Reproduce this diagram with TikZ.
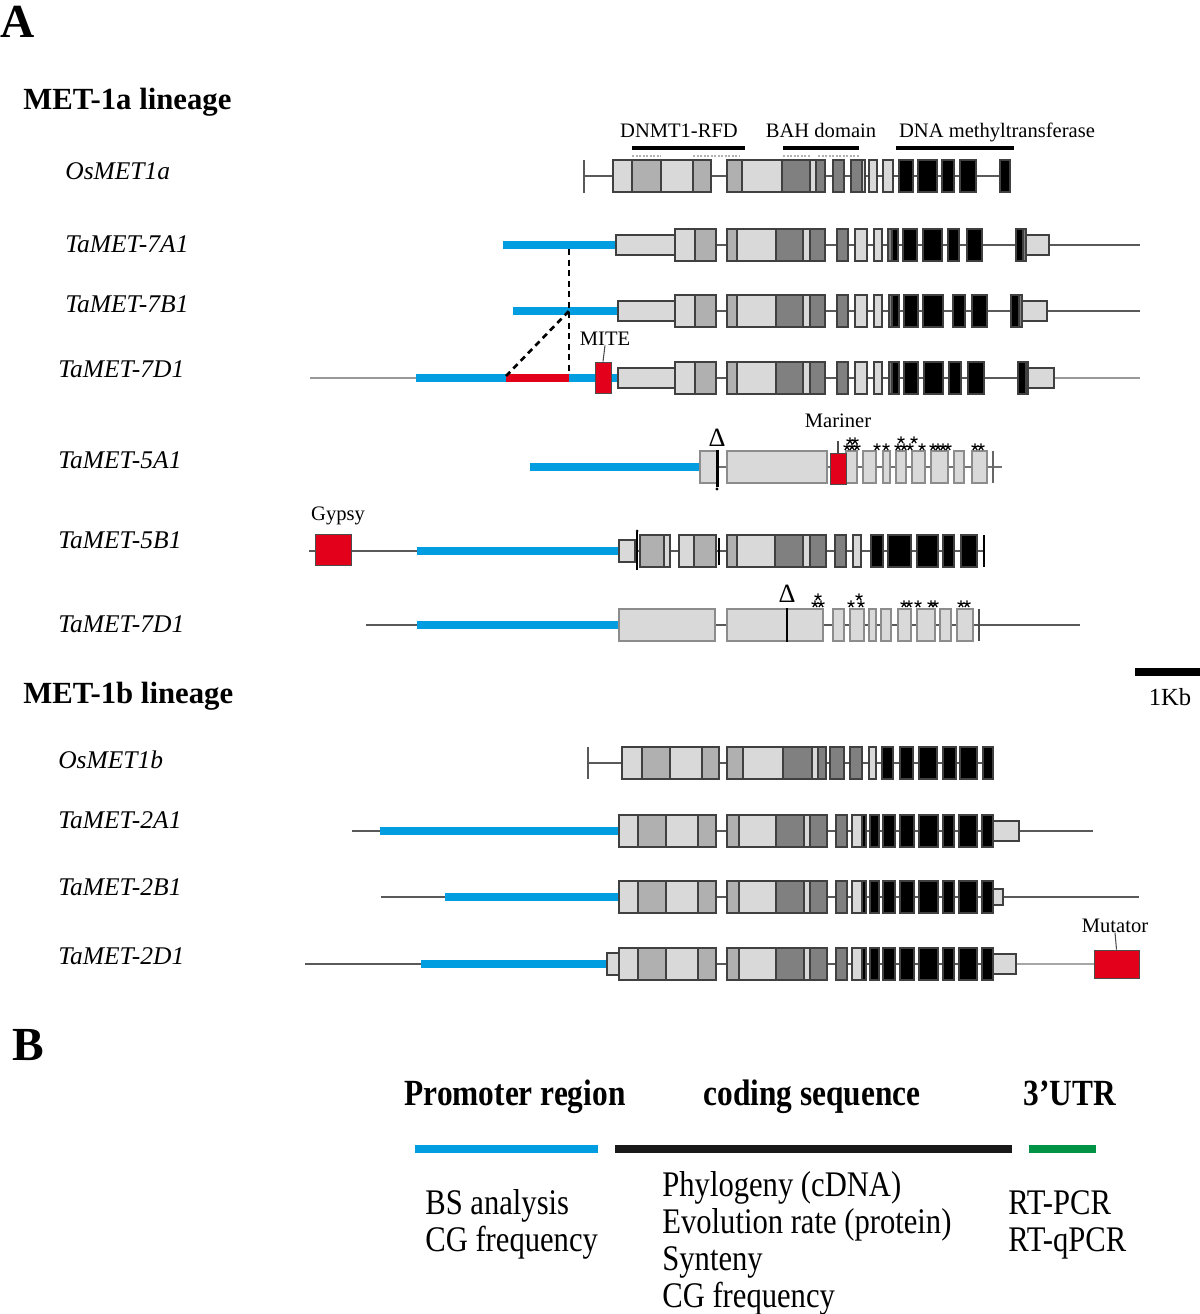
\documentclass[tikz,border=0pt]{standalone}
\usepackage{fontspec}
\setmainfont{Liberation Serif}
\newfontfamily\condserif[FakeStretch=0.85]{Liberation Serif}
\usetikzlibrary{plotmarks}
\definecolor{promBlue}{RGB}{0,158,224}
\definecolor{teRed}{RGB}{226,0,26}
\definecolor{utrGreen}{RGB}{0,146,69}
\definecolor{exL}{RGB}{217,217,217}
\definecolor{exM}{RGB}{176,176,176}
\definecolor{exD}{RGB}{128,128,128}
\newcommand{\exbox}[3]{\draw[exon,fill=#3] (#1,-16) rectangle (#2,16);}
\newcommand{\utrbox}[3]{\draw[exon,fill=exL] (#1,-#3) rectangle (#2,#3);}
\newcommand{\sevencore}{%
  \exbox{675}{695}{exL}\exbox{695}{716}{exM}\exbox{727}{737}{exM}\exbox{737}{776}{exL}%
  \exbox{776}{803}{exD}\exbox{803}{810}{exL}\exbox{810}{825}{exD}\exbox{837}{848}{exD}%
  \exbox{855}{867}{exL}\exbox{874}{882}{exL}}
\newcommand{\twocore}{%
  \exbox{619}{638}{exL}\exbox{638}{666}{exM}\exbox{666}{698}{exL}\exbox{698}{716}{exM}%
  \exbox{727}{739}{exM}\exbox{739}{776}{exL}\exbox{776}{804}{exD}\exbox{804}{810}{exL}%
  \exbox{810}{827}{exD}\exbox{836}{847}{exD}\exbox{852}{862}{exL}\exbox{862}{866}{black}%
  \exbox{870}{879}{black}\exbox{883}{895}{black}\exbox{900}{914}{black}\exbox{919}{938}{black}%
  \exbox{943}{954}{black}\exbox{959}{977}{black}\exbox{982}{993}{black}}

\begin{document}
\begin{tikzpicture}[x=0.2mm,y=-0.2mm,
  panel/.style={font=\fontsize{27}{30}\selectfont\bfseries,anchor=base west,inner sep=0pt},
  lineage/.style={font=\fontsize{17.5}{20}\selectfont\bfseries,anchor=base west,inner sep=0pt},
  gene/.style={font=\fontsize{14.5}{17}\selectfont\itshape,anchor=base west,inner sep=0pt},
  tag/.style={font=\fontsize{11.7}{14}\selectfont,anchor=base,inner sep=0pt},
  delta/.style={font=\fontsize{15}{18}\selectfont,anchor=base,inner sep=0pt},
  head/.style={font=\condserif\fontsize{21}{24}\selectfont\bfseries,anchor=base,inner sep=0pt},
  use/.style={font=\condserif\fontsize{20.5}{24}\selectfont,anchor=base west,inner sep=0pt},
  intron/.style={draw=black!65,line width=1.1pt},
  prom/.style={draw=promBlue,line width=4.5pt},
  exon/.style={draw=black!75,line width=0.6pt},
  dom/.style={draw=black,line width=2.8pt},
  domdash/.style={draw=black!30,line width=1.2pt,dash pattern=on 1.2pt off 0.8pt},
  tebox/.style={draw=black!70,line width=0.5pt,fill=teRed,inner sep=0pt},
  stars/.style={black,line width=0.7pt,mark size=0.75mm}]
  \useasboundingbox (0,0) rectangle (1200,1314);

  % ---------------- panel A ----------------
  \node[panel] (pa) at (0,38) {A};
  \node[lineage] (lin1a) at (23,110) {MET-1a lineage};
  \node[gene] (osa) at (65,180) {OsMET1a};
  \node[gene] (ta7a) at (65,253) {TaMET-7A1};
  \node[gene] (ta7b) at (65,313) {TaMET-7B1};
  \node[gene] (ta7d) at (58,377) {TaMET-7D1};
  \node[gene] (ta5a) at (58,468) {TaMET-5A1};
  \node[gene] (ta5b) at (58,548) {TaMET-5B1};
  \node[gene] (ta7dx) at (58,632) {TaMET-7D1};
  \node[lineage] (lin1b) at (23,703) {MET-1b lineage};
  \node[gene] (osb) at (58,768) {OsMET1b};
  \node[gene] (ta2a) at (58,828) {TaMET-2A1};
  \node[gene] (ta2b) at (58,895) {TaMET-2B1};
  \node[gene] (ta2d) at (58,964) {TaMET-2D1};

  % protein domains over OsMET1a
  \node[tag] (rfd) at (679,138) {DNMT1-RFD};
  \node[tag] (bah) at (821,138) {BAH domain};
  \node[tag] (mtase) at (997,138) {DNA methyltransferase};
  \draw[dom] (632,148) -- (745,148);
  \draw[dom] (783,148) -- (859,148);
  \draw[dom] (896,148) -- (1014,148);
  \draw[domdash] (632,156) -- (661,156) (693,156) -- (740,156)
                 (783,156) -- (811,156) (818,156) -- (859,156);

  % OsMET1a
  \draw[intron] (584,176) -- (1010,176);
  \draw[intron] (584,160) -- (584,193);
  \begin{scope}[shift={(0,176)}]
    \exbox{613}{632}{exL}\exbox{632}{661}{exM}\exbox{661}{693}{exL}\exbox{693}{711}{exM}
    \exbox{727}{742}{exM}\exbox{742}{782}{exL}\exbox{782}{810}{exD}\exbox{810}{816}{exL}
    \exbox{816}{825}{exD}\exbox{833}{844}{exD}\exbox{851}{862}{exD}\exbox{862}{865}{exL}
    \exbox{869}{877}{exL}\exbox{883}{893}{exL}
    \exbox{899}{913}{black}\exbox{918}{937}{black}\exbox{942}{954}{black}
    \exbox{960}{976}{black}\exbox{1000}{1010}{black}
  \end{scope}

  % TaMET-7A1
  \draw[intron] (616,245) -- (1140,245);
  \draw[prom] (503,245) -- (616,245);
  \begin{scope}[shift={(0,245)}]
    \utrbox{616}{675}{10}\sevencore
    \exbox{888}{892}{exD}\exbox{892}{898}{black}\exbox{903}{917}{black}\exbox{923}{942}{black}
    \exbox{948}{959}{black}\exbox{967}{982}{black}\exbox{1016}{1023}{black}\exbox{1023}{1026}{exD}
    \utrbox{1026}{1049}{10}
  \end{scope}

  % TaMET-7B1
  \draw[intron] (618,311) -- (1140,311);
  \draw[prom] (513,311) -- (618,311);
  \begin{scope}[shift={(0,311)}]
    \utrbox{618}{675}{10}\sevencore
    \exbox{889}{892}{exD}\exbox{892}{899}{black}\exbox{904}{918}{black}\exbox{923}{943}{black}
    \exbox{953}{965}{black}\exbox{972}{987}{black}\exbox{1011}{1019}{black}\exbox{1019}{1022}{exD}
    \utrbox{1022}{1047}{10}
  \end{scope}

  % TaMET-7D1
  \draw[intron,draw=black!40] (310,378) -- (416,378);
  \draw[intron] (618,378) -- (1054,378);
  \draw[intron,draw=black!40] (1054,378) -- (1140,378);
  \draw[prom] (416,378) -- (506,378);
  \draw[prom,draw=teRed] (506,378) -- (569,378);
  \draw[prom] (569,378) -- (618,378);
  \begin{scope}[shift={(0,378)}]
    \utrbox{618}{675}{10}\sevencore
    \exbox{889}{892}{exD}\exbox{892}{899}{black}\exbox{904}{918}{black}\exbox{924}{943}{black}
    \exbox{949}{961}{black}\exbox{968}{984}{black}\exbox{1018}{1026}{black}\exbox{1026}{1028}{exD}
    \utrbox{1028}{1054}{10}
  \end{scope}
  \node[tebox,minimum width=3.2mm,minimum height=6.2mm] (mite) at (603,377.5) {};
  \node[tag] (mitelbl) at (605,345) {MITE};
  \draw[black!70,line width=0.6pt] (mite.north) -- (mitelbl.south);
  % deleted promoter stretch
  \coordinate (dA) at (569,249);
  \coordinate (dB) at (569,311);
  \coordinate (dL) at (506,376);
  \coordinate (dR) at (569,375);
  \draw[line width=1.5pt,dash pattern=on 3.4pt off 2.6pt] (dA) -- (dR);
  \draw[line width=1.5pt,dash pattern=on 3.4pt off 2.6pt] (dL) -- (dB);

  % TaMET-5A1
  \draw[intron,draw=black!55] (700,467) -- (1002,467);
  \draw[prom] (530,467) -- (700,467);
  \begin{scope}[shift={(0,467)},exon/.append style={draw=black!45}]
    \exbox{700}{717}{exL}\exbox{727}{827}{exL}\exbox{846}{857}{exL}\exbox{863}{876}{exL}
    \exbox{883}{890}{exL}\exbox{896}{906}{exL}\exbox{912}{925}{exL}\exbox{931}{948}{exL}
    \exbox{954}{964}{exL}\exbox{972}{987}{exL}
    \draw[black!60,line width=1.2pt] (993,-16) -- (993,16);
  \end{scope}
  \draw[line width=1.7pt] (717,450) -- (717,487);
  \fill (717,489) circle (1.6);
  \node[delta] (del5a) at (717,446) {Δ};
  \node[tebox,minimum width=3.2mm,minimum height=6.2mm] (mariner) at (838,468.5) {};
  \node[tag] (marlbl) at (838,427) {Mariner};
  \draw[black!70,line width=0.6pt] (mariner.north) -- ++(0,-12);
  \draw[stars] plot[only marks,mark=star] coordinates {(847,447) (852,447) (857,447)
    (850,441) (855,441) (877,447) (886,447) (898,447) (904,447) (901,440)
    (910,447) (922,447) (914,440) (933,447) (938,447) (943,447) (948,447)
    (975,447) (981,447)};

  % TaMET-5B1
  \draw[intron] (309,551) -- (417,551);
  \draw[intron] (619,551) -- (984,551);
  \draw[prom] (417,551) -- (619,551);
  \node[tebox,minimum width=7.2mm,minimum height=6.2mm] (gypsy) at (333,549.5) {};
  \node[tag] (gyplbl) at (338,520) {Gypsy};
  \begin{scope}[shift={(0,551)}]
    \utrbox{619}{635}{11}
    \exbox{640}{664}{exM}\exbox{664}{670}{exL}\exbox{679}{694}{exL}\exbox{694}{716}{exM}
    \exbox{727}{737}{exM}\exbox{737}{775}{exL}\exbox{775}{803}{exD}\exbox{803}{810}{exL}
    \exbox{810}{826}{exD}\exbox{835}{846}{exD}\exbox{853}{861}{exL}
    \exbox{871}{883}{black}\exbox{888}{911}{black}\exbox{917}{938}{black}
    \exbox{943}{954}{black}\exbox{961}{977}{black}
    \draw[line width=1.2pt] (984,-16) -- (984,16);
    \draw[line width=1pt] (637,-19) -- (637,19);
    \fill (637,-20) circle (1.5);
    \draw[line width=1.2pt] (719,-13) -- (719,14);
  \end{scope}

  % TaMET-7D1 (second copy)
  \draw[intron] (366,625) -- (417,625);
  \draw[intron] (619,625) -- (1080,625);
  \draw[prom] (417,625) -- (619,625);
  \begin{scope}[shift={(0,625)},exon/.append style={draw=black!45}]
    \exbox{619}{715}{exL}\exbox{727}{823}{exL}\exbox{833}{844}{exL}\exbox{850}{864}{exL}
    \exbox{869}{876}{exL}\exbox{881}{891}{exL}\exbox{898}{911}{exL}\exbox{917}{935}{exL}
    \exbox{940}{951}{exL}\exbox{957}{973}{exL}
    \draw[line width=1.2pt] (787,-17) -- (787,17);
    \draw[black!70,line width=1.2pt] (979,-16) -- (979,16);
  \end{scope}
  \node[delta] (del7d) at (787,602) {Δ};
  \draw[stars] plot[only marks,mark=star] coordinates {(815,604) (821,604) (818,597)
    (851,604) (861,604) (859,597) (904,604) (909,604) (918,604) (931,604) (935,604)
    (961,604) (967,604)};

  % scale bar
  \draw[line width=4pt] (1135,672) -- (1200,672);
  \node[tag,font=\fontsize{14}{16}\selectfont] (kb) at (1170,705) {1Kb};

  % OsMET1b
  \draw[intron] (588,763) -- (994,763);
  \draw[intron] (588,747) -- (588,779);
  \begin{scope}[shift={(0,763)}]
    \exbox{622}{642}{exL}\exbox{642}{670}{exM}\exbox{670}{702}{exL}\exbox{702}{719}{exM}
    \exbox{727}{743}{exM}\exbox{743}{783}{exL}\exbox{783}{812}{exD}\exbox{812}{818}{exL}
    \exbox{818}{826}{exD}\exbox{830}{844}{exD}\exbox{850}{862}{exD}\exbox{869}{876}{exL}
    \exbox{882}{893}{black}\exbox{900}{913}{black}\exbox{919}{937}{black}
    \exbox{943}{956}{black}\exbox{960}{977}{black}\exbox{983}{993}{black}
  \end{scope}

  % TaMET-2A1
  \draw[intron] (352,831) -- (380,831);
  \draw[intron] (618,831) -- (1093,831);
  \draw[prom] (380,831) -- (618,831);
  \begin{scope}[shift={(0,831)}]
    \twocore\utrbox{993}{1019}{10}
  \end{scope}

  % TaMET-2B1
  \draw[intron] (381,897) -- (445,897);
  \draw[intron] (618,897) -- (1139,897);
  \draw[prom] (445,897) -- (618,897);
  \begin{scope}[shift={(0,897)}]
    \twocore\utrbox{993}{1003}{8}
  \end{scope}

  % TaMET-2D1
  \draw[intron] (305,964) -- (421,964);
  \draw[intron] (607,964) -- (1016,964);
  \draw[intron,draw=black!35] (1016,964) -- (1094,964);
  \draw[prom] (421,964) -- (607,964);
  \begin{scope}[shift={(0,964)}]
    \utrbox{607}{619}{11}\twocore\utrbox{993}{1016}{10}
  \end{scope}
  \node[tebox,minimum width=9mm,minimum height=5.6mm] (mutator) at (1116.5,964) {};
  \node[tag] (mutlbl) at (1115,932) {Mutator};
  \draw[black!70,line width=0.6pt] (mutator.north) -- (mutlbl.south);

  % ---------------- panel B ----------------
  \node[panel] (pb) at (12,1060) {B};
  \node[head] (hprom) at (515,1105) {Promoter region};
  \node[head] (hcds) at (812,1105) {coding sequence};
  \node[head] (hutr) at (1070,1105) {3’UTR};
  \draw[prom,line width=4.5pt] (415,1149) -- (598,1149);
  \draw[line width=4.5pt,draw=black!90] (615,1149) -- (1012,1149);
  \draw[line width=4.5pt,draw=utrGreen] (1029,1149) -- (1096,1149);
  \node[use] (bs) at (425,1214) {BS analysis};
  \node[use] (cg1) at (425,1251) {CG frequency};
  \node[use] (phy) at (662,1196) {Phylogeny (cDNA)};
  \node[use] (evo) at (662,1233) {Evolution rate (protein)};
  \node[use] (syn) at (662,1270) {Synteny};
  \node[use] (cg2) at (662,1307) {CG frequency};
  \node[use] (rtpcr) at (1008,1214) {RT-PCR};
  \node[use] (qpcr) at (1008,1251) {RT-qPCR};
\end{tikzpicture}
\end{document}
